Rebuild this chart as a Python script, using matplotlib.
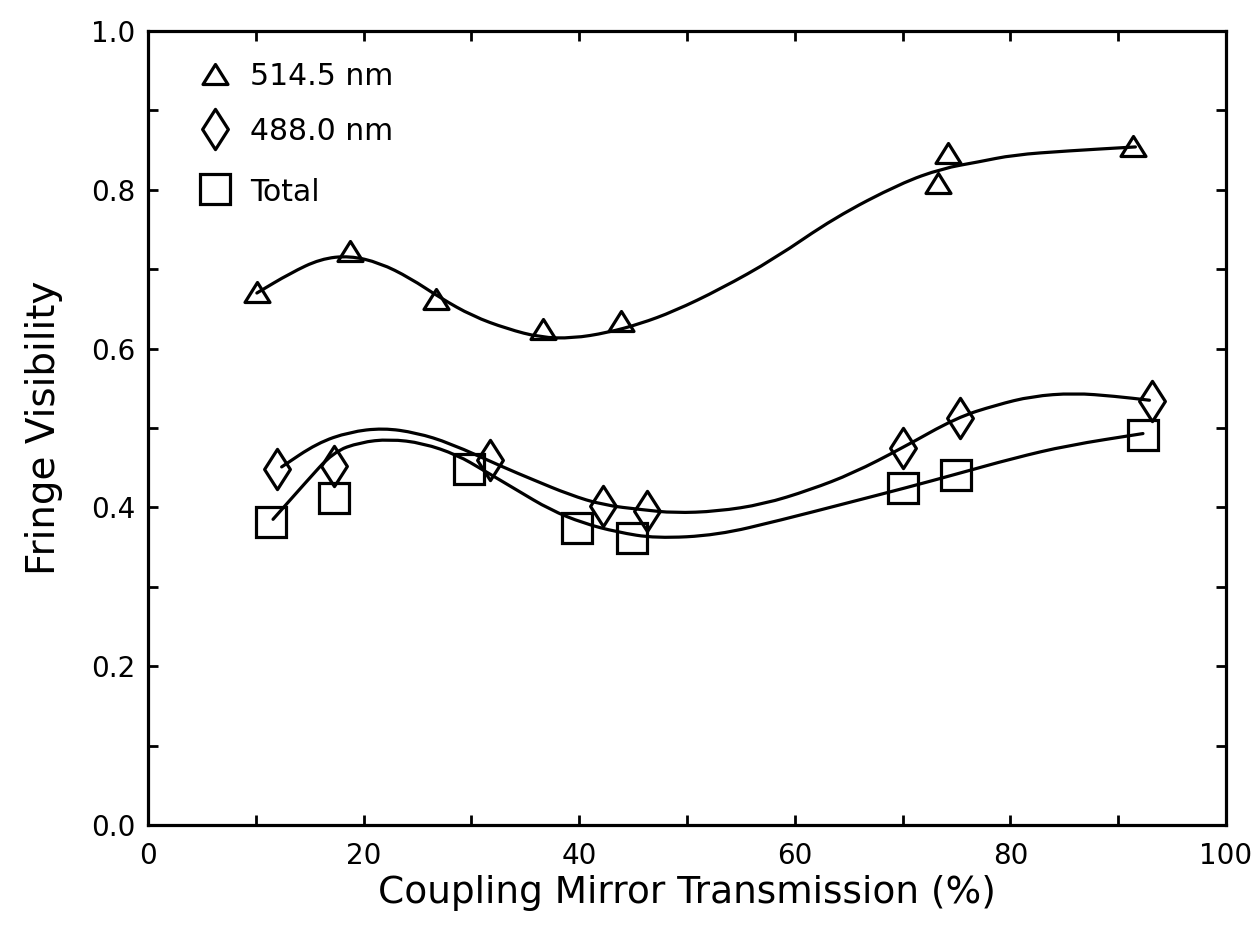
import numpy as np
import matplotlib
matplotlib.use("Agg")
import matplotlib.pyplot as plt
from matplotlib.ticker import MultipleLocator, FormatStrFormatter
from matplotlib.path import Path
from matplotlib.patches import PathPatch

plt.rcParams['font.family'] = ['DejaVu Sans']

x_514 = [10.1, 18.7, 26.7, 36.6, 43.9, 73.3, 74.2, 91.4]
y_514 = [0.671, 0.723, 0.662, 0.625, 0.635, 0.809, 0.846, 0.855]

x_488 = [12.0, 17.3, 31.7, 42.2, 46.3, 70.0, 75.3, 93.1]
y_488 = [0.448, 0.452, 0.460, 0.402, 0.395, 0.475, 0.513, 0.534]

x_tot = [11.4, 17.3, 29.8, 39.8, 44.9, 70.0, 75.0, 92.3]
y_tot = [0.382, 0.412, 0.448, 0.374, 0.361, 0.424, 0.441, 0.491]

# Smooth fit curves as drawn in the figure
cx_514 = [10.1, 13.2, 16.0, 18.7, 21.5, 24.3, 27.1, 30.1, 33.3, 36.4, 39.4, 42.6,
          45.6, 48.8, 53.1, 58.1, 63.7, 69.8, 73.7, 77.0, 80.3, 85.3, 91.6]
cy_514 = [0.670, 0.695, 0.713, 0.717, 0.708, 0.689, 0.664, 0.641, 0.625, 0.614, 0.613, 0.620,
          0.631, 0.647, 0.675, 0.713, 0.765, 0.808, 0.827, 0.835, 0.844, 0.849, 0.854]

cx_488 = [12.4, 15.7, 18.7, 21.8, 24.9, 28.0, 32.9, 35.7, 39.1, 42.2, 45.9, 48.8,
          52.8, 57.1, 61.4, 65.4, 70.0, 75.0, 78.7, 82.0, 85.9, 89.7, 92.9]
cy_488 = [0.451, 0.481, 0.495, 0.500, 0.494, 0.481, 0.451, 0.435, 0.416, 0.403, 0.397, 0.393,
          0.395, 0.404, 0.422, 0.443, 0.475, 0.513, 0.529, 0.540, 0.544, 0.540, 0.535]

cx_tot = [11.6, 14.6, 17.2, 19.7, 22.4, 25.5, 28.7, 31.1, 34.2, 37.3, 40.4, 43.5,
          47.1, 52.8, 58.7, 64.7, 70.4, 75.0, 80.3, 85.3, 92.3]
cy_tot = [0.385, 0.431, 0.470, 0.482, 0.486, 0.481, 0.466, 0.447, 0.422, 0.397, 0.380, 0.369,
          0.361, 0.365, 0.384, 0.405, 0.425, 0.442, 0.462, 0.478, 0.493]

labels = ['514.5 nm', '488.0 nm', 'Total']

# marker shapes
tri = Path([(-1.0, -0.8), (1.0, -0.8), (0.0, 0.8), (-1.0, -0.8)],
           [Path.MOVETO, Path.LINETO, Path.LINETO, Path.CLOSEPOLY])
dia = Path([(0.0, 1.0), (0.64, 0.0), (0.0, -1.0), (-0.64, 0.0), (0.0, 1.0)],
           [Path.MOVETO, Path.LINETO, Path.LINETO, Path.LINETO, Path.CLOSEPOLY])

mstyles = [
    dict(marker=tri, ms=18),
    dict(marker=dia, ms=29),
    dict(marker='s', ms=21.5),
]
common = dict(linestyle='none', mfc='none', mec='black', mew=2.3)

fig = plt.figure(figsize=(12.52, 9.34), dpi=100)
ax = fig.add_axes([0.1182, 0.1167, 0.8610, 0.8501])


def smooth_path(xs, ys):
    """Quadratic-Bezier rendering through the midpoints of the read curve points."""
    pts = list(zip(xs, ys))
    verts = [pts[0]]
    codes = [Path.MOVETO]
    mid = ((pts[0][0] + pts[1][0]) / 2, (pts[0][1] + pts[1][1]) / 2)
    verts.append(mid)
    codes.append(Path.LINETO)
    for i in range(1, len(pts) - 1):
        nxt = ((pts[i][0] + pts[i + 1][0]) / 2, (pts[i][1] + pts[i + 1][1]) / 2)
        verts += [pts[i], nxt]
        codes += [Path.CURVE3, Path.CURVE3]
    verts.append(pts[-1])
    codes.append(Path.LINETO)
    return Path(verts, codes)


lw = 2.3
for cx, cy in [(cx_514, cy_514), (cx_488, cy_488), (cx_tot, cy_tot)]:
    ax.add_patch(PathPatch(smooth_path(cx, cy), fill=False, edgecolor='black',
                           lw=lw, capstyle='round', joinstyle='round', zorder=2))

for (xx, yy), st in zip([(x_514, y_514), (x_488, y_488), (x_tot, y_tot)], mstyles):
    ax.plot(xx, yy, zorder=3, **common, **st)

ax.set_xlim(0, 100)
ax.set_ylim(0, 1.0)
ax.xaxis.set_major_locator(MultipleLocator(20))
ax.xaxis.set_minor_locator(MultipleLocator(10))
ax.yaxis.set_major_locator(MultipleLocator(0.2))
ax.yaxis.set_minor_locator(MultipleLocator(0.1))
ax.xaxis.set_major_formatter(FormatStrFormatter('%d'))
ax.yaxis.set_major_formatter(FormatStrFormatter('%.1f'))
ax.tick_params(which='both', direction='in', top=True, right=True, width=2,
               length=7.5, labelsize=20)
ax.tick_params(axis='x', which='major', pad=12)
ax.tick_params(axis='y', which='major', pad=9)
for s in ax.spines.values():
    s.set_linewidth(2.3)

ax.set_xlabel('Coupling Mirror Transmission (%)', fontsize=27, labelpad=4)
ax.set_ylabel('Fringe Visibility', fontsize=28, labelpad=20)

# legend (upper left, no frame)
leg_y = [0.946, 0.877, 0.801]
for st, lab, yy in zip(mstyles, labels, leg_y):
    ax.plot([0.062], [yy], transform=ax.transAxes, clip_on=False, **common, **st)
    ax.text(0.095, yy, lab, transform=ax.transAxes, fontsize=21.5,
            ha='left', va='center_baseline')

fig.savefig('out.png', dpi=100)
